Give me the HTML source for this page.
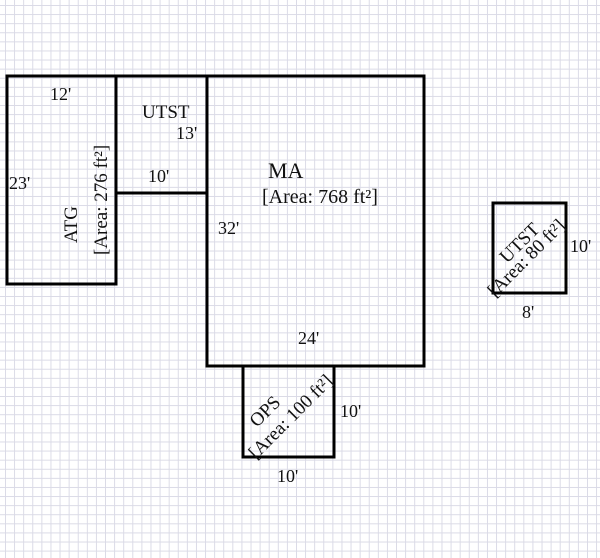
<!DOCTYPE html>
<html><head><style>
body{margin:0;width:600px;height:558px;overflow:hidden;background:#fff;
background-image:linear-gradient(to right,#dadae6 1px,transparent 1px),linear-gradient(to bottom,#dadae6 1px,transparent 1px);
background-size:9.1px 9.1px;background-position:5px 5px;font-family:"Liberation Serif",serif;}
</style></head><body>
<svg width="600" height="558" style="position:absolute;left:0;top:0" font-family="Liberation Serif, serif" fill="#111">
<g fill="none" stroke="#000" stroke-width="3">
<rect x="7" y="76" width="109" height="208"/>
<rect x="116" y="76" width="91" height="117"/>
<rect x="207" y="76" width="217" height="290"/>
<rect x="243" y="366" width="91" height="91"/>
<rect x="493" y="203" width="73" height="90"/>
</g>
<g font-size="18">
<text x="50" y="100">12'</text>
<text x="9" y="189">23'</text>
<text x="142" y="118" font-size="19">UTST</text>
<text x="176" y="139">13'</text>
<text x="148" y="182">10'</text>
<text x="268" y="178" font-size="22">MA</text>
<text x="262" y="203" font-size="20">[Area: 768 ft²]</text>
<text x="218" y="234">32'</text>
<text x="298" y="344">24'</text>
<text x="340" y="417">10'</text>
<text x="277" y="482">10'</text>
<text x="570" y="252">10'</text>
<text x="522" y="318">8'</text>
<text transform="translate(77,243) rotate(-90)" font-size="19">ATG</text>
<text transform="translate(107,255) rotate(-90)" font-size="19">[Area: 276 ft²]</text>
<text transform="translate(257,428) rotate(-45)" font-size="19">OPS</text>
<text transform="translate(256,460) rotate(-45)" font-size="19">[Area: 100 ft²]</text>
<text transform="translate(507,264) rotate(-45)" font-size="19">UTST</text>
<text transform="translate(495,298) rotate(-45)" font-size="19">[Area: 80 ft²]</text>
</g>
</svg>
</body></html>
